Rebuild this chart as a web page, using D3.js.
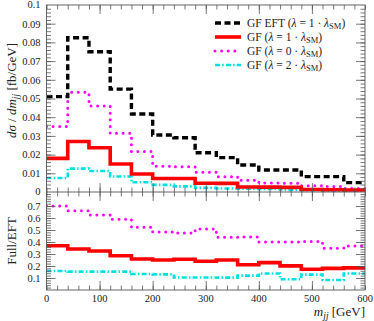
<!DOCTYPE html>
<html>
<head>
<meta charset="utf-8">
<script src="https://cdn.jsdelivr.net/npm/d3@7"></script>
<style>
  body { margin: 0; background: #fff; }
  svg text { font-family: "Liberation Serif", "DejaVu Serif", serif; fill: #222; }
</style>
</head>
<body>
<div id="chart"></div>
<script>
// bin lower edges (GeV), 40 GeV wide
const binEdges = [0, 40, 80, 120, 160, 200, 240, 280, 320, 360, 400, 440, 480, 520, 560];
const xEnd = 600;

// upper panel: d sigma / d m_jj [fb/GeV]
const eftValues  = [0.051, 0.0825, 0.075, 0.055, 0.0417, 0.0305, 0.029, 0.021, 0.0184, 0.0144, 0.0118, 0.0118, 0.0082, 0.0082, 0.005];
const lam1Values = [0.018, 0.027, 0.0237, 0.015, 0.0096, 0.0072, 0.0072, 0.0047, 0.0046, 0.0027, 0.0026, 0.0025, 0.0013, 0.0012, 0.0011];
const lam0Values = [0.035, 0.0533, 0.046, 0.0314, 0.0216, 0.0138, 0.0135, 0.0105, 0.0082, 0.0063, 0.0048, 0.0047, 0.0033, 0.0029, 0.0019];
const lam2Values = [0.0075, 0.0125, 0.0112, 0.0083, 0.0052, 0.0038, 0.003, 0.0022, 0.0019, 0.0017, 0.0016, 0.0011, 0.001, 0.0007, 0.0007];

// lower panel: Full / EFT
const lam1Ratio = [0.369, 0.342, 0.325, 0.286, 0.258, 0.25, 0.256, 0.239, 0.25, 0.211, 0.228, 0.201, 0.173, 0.18, 0.184];
const lam0Ratio = [0.70, 0.661, 0.625, 0.589, 0.522, 0.483, 0.474, 0.509, 0.439, 0.442, 0.401, 0.401, 0.405, 0.348, 0.367];
const lam2Ratio = [0.158, 0.153, 0.153, 0.153, 0.133, 0.13, 0.104, 0.104, 0.103, 0.12, 0.138, 0.09, 0.128, 0.083, 0.138];

const xTicks = [0, 100, 200, 300, 400, 500, 600];
const topTicks = [0, 0.01, 0.02, 0.03, 0.04, 0.05, 0.06, 0.07, 0.08, 0.09, 0.1];
const botTicks = [0.1, 0.2, 0.3, 0.4, 0.5, 0.6, 0.7];

const series = [
  { name: 'GF EFT', lam: '1', up: eftValues, low: null, color: '#000', width: 3.4, dash: '6,3.5', cap: 'butt' },
  { name: 'GF', lam: '1', up: lam1Values, low: lam1Ratio, color: '#ff0000', width: 3.6, dash: null, cap: 'butt' },
  { name: 'GF', lam: '0', up: lam0Values, low: lam0Ratio, color: '#ff00ff', width: 3, dash: '0,6.6', cap: 'round' },
  { name: 'GF', lam: '2', up: lam2Values, low: lam2Ratio, color: '#00e0e0', width: 2.6, dash: '5,2.2,1.5,2.2', cap: 'butt' }
];

const W = 374, H = 321;
const pL = 46.5, pR = 365, pT = 5, pM = 192, pB = 290;

const svg = d3.select('#chart').append('svg')
  .attr('width', W).attr('height', H);

const x = d3.scaleLinear().domain([0, 600]).range([pL, pR]);
const yTop = d3.scaleLinear().domain([0, 0.1]).range([pM, pT]);
const yBot = d3.scaleLinear().domain([0, 0.8167]).range([pB, pM]);

const defs = svg.append('defs');
defs.append('clipPath').attr('id', 'clipTop')
  .append('rect').attr('x', pL).attr('y', pT).attr('width', pR - pL).attr('height', pM - pT);
defs.append('clipPath').attr('id', 'clipBot')
  .append('rect').attr('x', pL).attr('y', pM).attr('width', pR - pL).attr('height', pB - pM);

function stepPoints(vals) {
  const pts = binEdges.map((e, i) => [e, vals[i]]);
  pts.push([xEnd, vals[vals.length - 1]]);
  return pts;
}

function drawSeries(g, y, key) {
  const line = d3.line().x(d => x(d[0])).y(d => y(d[1])).curve(d3.curveStepAfter);
  series.slice().reverse().forEach(s => {
    if (!s[key]) return;
    g.append('path')
      .datum(stepPoints(s[key]))
      .attr('d', line)
      .attr('fill', 'none')
      .attr('stroke', s.color)
      .attr('stroke-width', s.width)
      .attr('stroke-linecap', s.cap)
      .attr('stroke-dasharray', s.dash);
  });
}

drawSeries(svg.append('g').attr('clip-path', 'url(#clipTop)'), yTop, 'up');
drawSeries(svg.append('g').attr('clip-path', 'url(#clipBot)'), yBot, 'low');

// axes and ticks, pointing inward
const axisColor = '#555';
function styleAxis(g) {
  g.select('.domain').remove();
  g.selectAll('line').attr('stroke', axisColor).attr('stroke-width', 0.8);
  g.selectAll('text').attr('font-size', 10.5).attr('font-family', '"Liberation Serif", serif').attr('fill', '#222');
}
const xMinor = d3.range(0, 601, 20);
const yTopMinor = d3.range(0.002, 0.1, 0.002);
const yBotMinor = d3.range(0.02, 0.81, 0.02);

function xAxes(yPos, dir) {
  const gen = dir === 'up' ? d3.axisBottom : d3.axisTop;
  svg.append('g').attr('transform', `translate(0,${yPos})`)
    .call(gen(x).tickValues(xMinor).tickSize(-4.5).tickFormat(''))
    .call(styleAxis);
  svg.append('g').attr('transform', `translate(0,${yPos})`)
    .call(gen(x).tickValues(xTicks.slice(1, -1)).tickSize(-9).tickFormat(''))
    .call(styleAxis);
}
xAxes(pT, 'down');
xAxes(pM, 'up');
xAxes(pM, 'down');
xAxes(pB, 'up');

function yAxes(scale, minor, major, fmt) {
  svg.append('g').attr('transform', `translate(${pL},0)`)
    .call(d3.axisLeft(scale).tickValues(minor).tickSize(-4.5).tickFormat(''))
    .call(styleAxis);
  svg.append('g').attr('transform', `translate(${pL},0)`)
    .call(d3.axisLeft(scale).tickValues(major).tickSize(-9).tickPadding(6).tickFormat(fmt))
    .call(styleAxis);
  svg.append('g').attr('transform', `translate(${pR},0)`)
    .call(d3.axisRight(scale).tickValues(minor).tickSize(-4.5).tickFormat(''))
    .call(styleAxis);
  svg.append('g').attr('transform', `translate(${pR},0)`)
    .call(d3.axisRight(scale).tickValues(major).tickSize(-9).tickFormat(''))
    .call(styleAxis);
}
yAxes(yTop, yTopMinor, topTicks.slice(1, -1), d3.format('.2~f'));
yAxes(yBot, yBotMinor, botTicks, d3.format('.1f'));

// top panel end labels (0 and 0.1 sit on the frame)
svg.append('g').selectAll('text').data([topTicks[0], topTicks[topTicks.length - 1]]).join('text')
  .attr('x', pL - 6).attr('y', d => yTop(d)).attr('dy', '0.32em')
  .attr('text-anchor', 'end').attr('font-size', 10.5)
  .text(d => d === 0 ? '0' : '0.1');

// x tick labels
svg.append('g').selectAll('text').data(xTicks).join('text')
  .attr('x', d => x(d)).attr('y', 302)
  .attr('text-anchor', 'middle').attr('font-size', 10.5)
  .text(d => d);

// frame
svg.append('rect').attr('x', pL).attr('y', pT).attr('width', pR - pL).attr('height', pB - pT)
  .attr('fill', 'none').attr('stroke', axisColor).attr('stroke-width', 0.9);
svg.append('line').attr('x1', pL).attr('x2', pR).attr('y1', pM).attr('y2', pM)
  .attr('stroke', axisColor).attr('stroke-width', 0.9);

// axis titles
const yt = svg.append('text')
  .attr('transform', `translate(16,${(pT + pM) / 2 - 8}) rotate(-90)`)
  .attr('text-anchor', 'middle').attr('font-size', 13);
yt.append('tspan').attr('font-style', 'italic').text('dσ');
yt.append('tspan').text(' / ');
yt.append('tspan').attr('font-style', 'italic').text('dm');
yt.append('tspan').attr('font-style', 'italic').attr('font-size', 9.5).attr('dy', 3).text('jj');
yt.append('tspan').attr('dy', -3).text(' [fb/GeV]');

svg.append('text')
  .attr('transform', `translate(16,${(pM + pB) / 2}) rotate(-90)`)
  .attr('text-anchor', 'middle').attr('font-size', 13)
  .text('Full/EFT');

const xt = svg.append('text').attr('x', pR).attr('y', 316)
  .attr('text-anchor', 'end').attr('font-size', 13);
xt.append('tspan').attr('font-style', 'italic').text('m');
xt.append('tspan').attr('font-style', 'italic').attr('font-size', 9.5).attr('dy', 3).text('jj');
xt.append('tspan').attr('dy', -3).text(' [GeV]');

// legend
const legend = svg.append('g');
series.forEach((s, i) => {
  const yy = 23 + i * 14;
  legend.append('line').attr('x1', 215).attr('x2', 241).attr('y1', yy).attr('y2', yy)
    .attr('stroke', s.color).attr('stroke-width', s.width)
    .attr('stroke-linecap', s.cap).attr('stroke-dasharray', s.dash);
  const t = legend.append('text').attr('x', 247).attr('y', yy + 3.8).attr('font-size', 11.5);
  t.append('tspan').text(s.name + ' (');
  t.append('tspan').attr('font-style', 'italic').text('λ');
  t.append('tspan').text(' = ' + s.lam + ' · ');
  t.append('tspan').attr('font-style', 'italic').text('λ');
  t.append('tspan').attr('font-size', 8.5).attr('dy', 2.5).text('SM');
  t.append('tspan').attr('dy', -2.5).text(')');
});
</script>
</body>
</html>
